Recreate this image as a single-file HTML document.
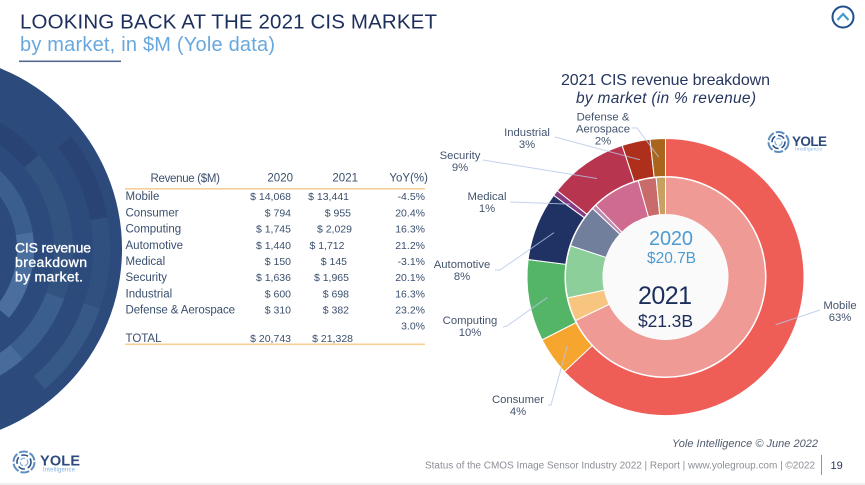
<!DOCTYPE html>
<html lang="en">
<head>
<meta charset="utf-8">
<title>Looking back at the 2021 CIS market</title>
<style>
html,body{margin:0;padding:0;background:#fff;width:865px;height:485px;overflow:hidden}
svg{display:block}
text{font-family:"Liberation Sans",sans-serif}
.t{font-size:10.5px;fill:#3a4f6e}
.n{font-size:11.5px;fill:#3a4f6e}
.lab{font-size:11.3px;fill:#44546e;text-anchor:middle}
</style>
</head>
<body>
<svg id="slide" width="865" height="485" viewBox="0 0 865 485" xmlns="http://www.w3.org/2000/svg">
  <rect width="865" height="485" fill="#fff"/>
  <rect y="483" width="865" height="2" fill="#efefef"/>

  <text x="20" y="28.5" font-size="20.5" fill="#1c2f5c" textLength="417" lengthAdjust="spacing">LOOKING BACK AT THE 2021 CIS MARKET</text>
  <text x="20" y="51" font-size="20" fill="#68a8de" textLength="255" lengthAdjust="spacing">by market, in $M (Yole data)</text>
  <rect x="19" y="60.5" width="102" height="1.6" fill="#55698f"/>

  <g>
    <circle cx="843" cy="17" r="10.5" fill="#fff" stroke="#1f4f8c" stroke-width="2"/>
    <path d="M837.5 20 L843 14 L848.5 20" fill="none" stroke="#3f9ad0" stroke-width="2.2"/>
  </g>

  <g id="left-disc"></g>
  <text font-size="14" fill="#fff" stroke="#fff" stroke-width="0.35">
    <tspan x="15" y="252.5" textLength="76" lengthAdjust="spacing">CIS revenue</tspan>
    <tspan x="15" y="267" textLength="72" lengthAdjust="spacing">breakdown</tspan>
    <tspan x="15" y="281.5" textLength="68" lengthAdjust="spacing">by market.</tspan>
  </text>

  <g>
    <text class="n" x="150.5" y="182" textLength="69.5" lengthAdjust="spacing">Revenue ($M)</text>
    <text class="n" x="293" y="181.5" text-anchor="end">2020</text>
    <text class="n" x="358" y="181.5" text-anchor="end">2021</text>
    <text class="n" x="428" y="181.5" text-anchor="end">YoY(%)</text>
    <rect x="125" y="188" width="300" height="1.6" fill="#f8cf97"/>

    <g><text class="n" x="125.5" y="200">Mobile</text><text class="t" x="291" y="200" text-anchor="end">$ 14,068</text><text class="t" x="349" y="200" text-anchor="end">$ 13,441</text><text class="t" x="425" y="200" text-anchor="end">-4.5%</text></g>
    <g><text class="n" x="125.5" y="216.5">Consumer</text><text class="t" x="291" y="216.5" text-anchor="end">$ 794</text><text class="t" x="351" y="216.5" text-anchor="end">$ 955</text><text class="t" x="425" y="216.5" text-anchor="end">20.4%</text></g>
    <g><text class="n" x="125.5" y="232.5">Computing</text><text class="t" x="291" y="232.5" text-anchor="end">$ 1,745</text><text class="t" x="352" y="232.5" text-anchor="end">$ 2,029</text><text class="t" x="425" y="232.5" text-anchor="end">16.3%</text></g>
    <g><text class="n" x="125.5" y="249">Automotive</text><text class="t" x="291" y="249" text-anchor="end">$ 1,440</text><text class="t" x="344.5" y="249" text-anchor="end">$ 1,712</text><text class="t" x="425" y="249" text-anchor="end">21.2%</text></g>
    <g><text class="n" x="125.5" y="265">Medical</text><text class="t" x="291" y="265" text-anchor="end">$ 150</text><text class="t" x="347" y="265" text-anchor="end">$ 145</text><text class="t" x="425" y="265" text-anchor="end">-3.1%</text></g>
    <g><text class="n" x="125.5" y="281">Security</text><text class="t" x="291" y="281" text-anchor="end">$ 1,636</text><text class="t" x="349" y="281" text-anchor="end">$ 1,965</text><text class="t" x="425" y="281" text-anchor="end">20.1%</text></g>
    <g><text class="n" x="125.5" y="297.5">Industrial</text><text class="t" x="291" y="297.5" text-anchor="end">$ 600</text><text class="t" x="349" y="297.5" text-anchor="end">$ 698</text><text class="t" x="425" y="297.5" text-anchor="end">16.3%</text></g>
    <g><text class="n" x="125.5" y="313.5" textLength="109.5" lengthAdjust="spacing">Defense &amp; Aerospace</text><text class="t" x="291" y="313.5" text-anchor="end">$ 310</text><text class="t" x="349" y="313.5" text-anchor="end">$ 382</text><text class="t" x="425" y="313.5" text-anchor="end">23.2%</text></g>
    <text class="t" x="425" y="329.5" text-anchor="end">3.0%</text>
    <g><text class="n" x="125.5" y="342">TOTAL</text><text class="t" x="291" y="342" text-anchor="end">$ 20,743</text><text class="t" x="353" y="342" text-anchor="end">$ 21,328</text></g>
    <rect x="125" y="343.5" width="300" height="1.6" fill="#f8cf97"/>
  </g>

  <text x="665.5" y="85" font-size="16" fill="#26365f" text-anchor="middle" textLength="209" lengthAdjust="spacing">2021 CIS revenue breakdown</text>
  <text x="666" y="103" font-size="15.5" font-style="italic" fill="#26365f" text-anchor="middle" textLength="180" lengthAdjust="spacing">by market (in % revenue)</text>

  <g id="donut"></g>

  <text x="671" y="245" font-size="20" fill="#4f9bd0" text-anchor="middle" textLength="44" lengthAdjust="spacing">2020</text>
  <text x="671.5" y="263" font-size="15.5" fill="#4f9bd0" text-anchor="middle" textLength="49" lengthAdjust="spacing">$20.7B</text>
  <text x="665" y="304" font-size="25" fill="#1c2f5c" text-anchor="middle" textLength="54" lengthAdjust="spacing">2021</text>
  <text x="665.5" y="327" font-size="17.5" fill="#1c2f5c" text-anchor="middle" textLength="55" lengthAdjust="spacing">$21.3B</text>

  <g>
    <circle cx="778.5" cy="142" r="10" fill="none" stroke="#5f8fc0" stroke-width="2" stroke-dasharray="9 2"/>
    <circle cx="778.5" cy="142" r="6.5" fill="none" stroke="#2d5288" stroke-width="1.6" stroke-dasharray="7 3"/>
    <circle cx="778.5" cy="142" r="3.5" fill="none" stroke="#7eb0dc" stroke-width="1.2" stroke-dasharray="5 2"/>
    <text x="792" y="146" font-size="13.5" font-weight="bold" fill="#2c4a7c" textLength="35" lengthAdjust="spacing">YOLE</text>
    <text x="795" y="150.5" font-size="4.8" fill="#7db1e0" textLength="27" lengthAdjust="spacing">Intelligence</text>
  </g>
  <g>
    <circle cx="24" cy="462" r="10.5" fill="none" stroke="#5f8fc0" stroke-width="2" stroke-dasharray="9 2"/>
    <circle cx="24" cy="462" r="7" fill="none" stroke="#2d5288" stroke-width="1.6" stroke-dasharray="7 3"/>
    <circle cx="24" cy="462" r="3.8" fill="none" stroke="#7eb0dc" stroke-width="1.2" stroke-dasharray="5 2"/>
    <text x="40" y="465.5" font-size="14.5" font-weight="bold" fill="#2c4a7c" textLength="40" lengthAdjust="spacing">YOLE</text>
    <text x="43" y="471.5" font-size="6" fill="#7db1e0" textLength="32" lengthAdjust="spacing">Intelligence</text>
  </g>

  <text x="672" y="447" font-size="11" font-style="italic" fill="#4f5a6c" textLength="146" lengthAdjust="spacing">Yole Intelligence © June 2022</text>
  <text x="425" y="468.5" font-size="10" fill="#8b8f96" textLength="390" lengthAdjust="spacing">Status of the CMOS Image Sensor Industry 2022 | Report | www.yolegroup.com | ©2022</text>
  <rect x="821" y="455" width="1" height="20" fill="#8b96a5"/>
  <text x="830.5" y="469" font-size="11" fill="#26365f">19</text>
</svg>
<script>
const categories = ["Mobile","Consumer","Computing","Automotive","Medical","Security","Industrial","Defense & Aerospace"];
const revenue2020 = [14068,794,1745,1440,150,1636,600,310];
const revenue2021 = [13441,955,2029,1712,145,1965,698,382];
const shareLabels2021 = ["63%","4%","10%","8%","1%","9%","3%","2%"];
const outerColors = ["#ef5d57","#f6a52e","#55b567","#1f3263","#873a80","#b8354f","#ad2f1c","#a9651c"];
const innerColors = ["#f09a96","#f8c581","#8ccf9b","#727f9c","#bd8cb0","#cf6a90","#c96b6b","#c8a062"];
const labelAnchors = [
  {lines:["Mobile"],x:840,y:309,lx:820,ly:310,ex:820,ey:310},
  {lines:["Consumer"],x:518,y:403,lx:548,ly:405,ex:551,ey:405},
  {lines:["Computing"],x:470,y:324,lx:503,ly:327,ex:507,ey:326},
  {lines:["Automotive"],x:462,y:268,lx:495,ly:270,ex:500,ey:270},
  {lines:["Medical"],x:487,y:200,lx:510,ly:202,ex:510,ey:202},
  {lines:["Security"],x:460,y:159,lx:483,ly:160,ex:483,ey:160},
  {lines:["Industrial"],x:527,y:136,lx:555,ly:137,ex:555,ey:137},
  {lines:["Defense &","Aerospace"],x:603,y:120.5,lx:632,ly:128,ex:637,ey:128}
];

const NS = "http://www.w3.org/2000/svg";
const cx = 665.5, cy = 277;
const rOuter = 138.5, rMid = 100.5, rInner = 100, rHole = 62.5, rLeader = 120;

function angleScale(values){
  const total = values.reduce((a,b)=>a+b,0);
  return v => v / total * 2 * Math.PI;
}
function pt(r,a){ return [cx + r*Math.sin(a), cy - r*Math.cos(a)]; }
function arcPath(r0,r1,a0,a1){
  const big = a1-a0 > Math.PI ? 1 : 0;
  const p0 = pt(r1,a0), p1 = pt(r1,a1), p2 = pt(r0,a1), p3 = pt(r0,a0);
  return "M"+p0[0]+" "+p0[1]+"A"+r1+" "+r1+" 0 "+big+" 1 "+p1[0]+" "+p1[1]+
         "L"+p2[0]+" "+p2[1]+"A"+r0+" "+r0+" 0 "+big+" 0 "+p3[0]+" "+p3[1]+"Z";
}

const donut = document.getElementById("donut");

function drawRing(values,colors,r0,r1,year){
  const scale = angleScale(values);
  let a = 0;
  values.forEach((v,i)=>{
    const a1 = a + scale(v);
    const p = document.createElementNS(NS,"path");
    p.setAttribute("d",arcPath(r0,r1,a,a1));
    p.setAttribute("fill",colors[i]);
    p.setAttribute("stroke","#fff");
    p.setAttribute("stroke-width","1");
    
    
    donut.appendChild(p);
    a = a1;
  });
}
drawRing(revenue2021,outerColors,rMid,rOuter,"2021");
drawRing(revenue2020,innerColors,rHole,rInner,"2020");

const hole = document.createElementNS(NS,"circle");
hole.setAttribute("cx",cx);
hole.setAttribute("cy",cy);
hole.setAttribute("r",rHole);
hole.setAttribute("fill","#fafafa");


donut.appendChild(hole);

(function(){
  const scale = angleScale(revenue2021);
  let a = 0;
  revenue2021.forEach((v,i)=>{
    const mid = a + scale(v)/2;
    a += scale(v);
    const end = pt(rLeader,mid);
    const L = labelAnchors[i];
    const line = document.createElementNS(NS,"polyline");
    line.setAttribute("points",L.lx+","+L.ly+" "+L.ex+","+L.ey+" "+end[0]+","+end[1]);
    line.setAttribute("fill","none");
    line.setAttribute("stroke","#b4c7e7");
    line.setAttribute("stroke-opacity","0.8");
    line.setAttribute("stroke-width","1");
    
    
    donut.appendChild(line);
    const lines = L.lines.concat([shareLabels2021[i]]);
    lines.forEach((s,j)=>{
      const t = document.createElementNS(NS,"text");
      t.setAttribute("class","lab");
      t.setAttribute("x",L.x);
      t.setAttribute("y",L.y + j*12);
      t.textContent = s;
      
      
      donut.appendChild(t);
    });
  });
})();

/* decorative disc on the left edge */
const disc = document.getElementById("left-disc");
const dcx = -73, dcy = 249;
const base = document.createElementNS(NS,"circle");
base.setAttribute("cx",dcx);
base.setAttribute("cy",dcy);
base.setAttribute("r",195);
base.setAttribute("fill","#2c4a7c");


disc.appendChild(base);
[
  [166,183,-38,-10,"#294474"],[166,183,-10,19,"#30507f"],[166,183,19,50,"#365987"],
  [127,146,-75,-40,"#294474"],[127,146,-40,20,"#32537f"],[127,146,20,49,"#3a5e8e"],[127,146,49,90,"#476c9c"],
  [90,107,-60,-9,"#3a5e8e"],[90,107,-9,40,"#4a6f9e"]
].forEach(s=>{
  const toPt = (r,d)=>[dcx+r*Math.cos(d*Math.PI/180),dcy+r*Math.sin(d*Math.PI/180)];
  const a=toPt(s[1],s[2]),b=toPt(s[1],s[3]),c=toPt(s[0],s[3]),d=toPt(s[0],s[2]);
  const p = document.createElementNS(NS,"path");
  p.setAttribute("d","M"+a+"A"+s[1]+" "+s[1]+" 0 0 1 "+b+"L"+c+"A"+s[0]+" "+s[0]+" 0 0 0 "+d+"Z");
  p.setAttribute("fill",s[4]);
  
  
  disc.appendChild(p);
});
</script>
</body>
</html>
